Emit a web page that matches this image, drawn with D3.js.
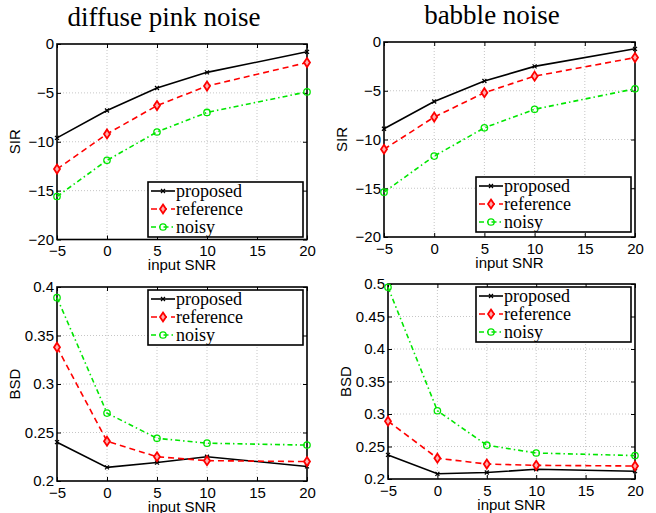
<!DOCTYPE html>
<html>
<head>
<meta charset="utf-8">
<script src="https://cdn.jsdelivr.net/npm/d3@7"></script>
<style>
  body { margin: 0; background: #fff; }
  svg text { font-family: "Liberation Sans", Arial, sans-serif; }
</style>
</head>
<body>
<svg id="drawing_region"></svg>
<script>
// input SNR values (x axis)
const snr = [-5, 0, 5, 10, 20];
const xTicks = [-5, 0, 5, 10, 15, 20];
const seriesNames = ["proposed", "reference", "noisy"];

// SIR, diffuse pink noise
const sirPinkProposed  = [-9.6, -6.8, -4.5, -2.9, -0.8];
const sirPinkReference = [-12.8, -9.2, -6.3, -4.3, -1.9];
const sirPinkNoisy     = [-15.6, -11.9, -9.0, -7.0, -4.9];

// SIR, babble noise
const sirBabbleProposed  = [-8.9, -6.1, -4.0, -2.5, -0.7];
const sirBabbleReference = [-11.0, -7.7, -5.2, -3.5, -1.6];
const sirBabbleNoisy     = [-15.4, -11.7, -8.8, -6.9, -4.8];

// BSD, diffuse pink noise
const bsdPinkProposed  = [0.240, 0.214, 0.219, 0.225, 0.215];
const bsdPinkReference = [0.338, 0.241, 0.225, 0.221, 0.220];
const bsdPinkNoisy     = [0.389, 0.270, 0.244, 0.239, 0.237];

// BSD, babble noise
const bsdBabbleProposed  = [0.237, 0.208, 0.210, 0.215, 0.212];
const bsdBabbleReference = [0.289, 0.232, 0.223, 0.221, 0.220];
const bsdBabbleNoisy     = [0.495, 0.305, 0.252, 0.240, 0.236];

const sirTicks = [-20, -15, -10, -5, 0];
const bsdPinkTicks = [0.2, 0.25, 0.3, 0.35, 0.4];
const bsdBabbleTicks = [0.2, 0.25, 0.3, 0.35, 0.4, 0.45, 0.5];

const svg = d3.select("#drawing_region")
    .attr("width", 656)
    .attr("height", 513);

const styles = {
    proposed:  { color: "#000000", dash: null },
    reference: { color: "#ff0000", dash: "6,4" },
    noisy:     { color: "#00e600", dash: "5,3,1.5,3" }
};

function fmtTick(v) {
    return String(v).replace("-", "\u2212");
}

function drawMarker(g, name, x, y) {
    const c = styles[name].color;
    if (name === "proposed") {
        g.append("path")
            .attr("d", `M${x-2},${y-2}L${x+2},${y+2}M${x-2},${y+2}L${x+2},${y-2}`)
            .attr("stroke", c).attr("stroke-width", 1.2);
    } else if (name === "reference") {
        g.append("path")
            .attr("d", `M${x},${y-4.5}L${x+3},${y}L${x},${y+4.5}L${x-3},${y}Z`)
            .attr("fill", "#ffb0b0").attr("stroke", c).attr("stroke-width", 1.8);
    } else {
        g.append("circle")
            .attr("cx", x).attr("cy", y).attr("r", 3.2)
            .attr("fill", "none").attr("stroke", c).attr("stroke-width", 1.3);
    }
}

function drawPanel(cfg) {
    const g = svg.append("g");
    const x = d3.scaleLinear().domain([-5, 20]).range([cfg.left, cfg.right]);
    const y = d3.scaleLinear().domain(cfg.yDomain).range([cfg.bottom, cfg.top]);

    // grid
    g.selectAll(".gx").data(xTicks.slice(1, -1)).enter().append("line")
        .attr("x1", d => x(d)).attr("x2", d => x(d))
        .attr("y1", cfg.top).attr("y2", cfg.bottom)
        .attr("stroke", "#b8b8b8").attr("stroke-width", 0.8)
        .attr("stroke-dasharray", "1,2");
    g.selectAll(".gy").data(cfg.yTicks.slice(1, -1)).enter().append("line")
        .attr("x1", cfg.left).attr("x2", cfg.right)
        .attr("y1", d => y(d)).attr("y2", d => y(d))
        .attr("stroke", "#b8b8b8").attr("stroke-width", 0.8)
        .attr("stroke-dasharray", "1,2");

    // axes (ticks inward)
    const xAxis = d3.axisBottom(x).tickValues(xTicks).tickSize(-4).tickPadding(6)
        .tickFormat(fmtTick);
    const xAxisTop = d3.axisTop(x).tickValues(xTicks).tickSize(-4).tickFormat("");
    const yAxis = d3.axisLeft(y).tickValues(cfg.yTicks).tickSize(-4).tickPadding(3)
        .tickFormat(fmtTick);
    const yAxisRight = d3.axisRight(y).tickValues(cfg.yTicks).tickSize(-4).tickFormat("");

    [
        [xAxis, `translate(0,${cfg.bottom})`],
        [xAxisTop, `translate(0,${cfg.top})`],
        [yAxis, `translate(${cfg.left},0)`],
        [yAxisRight, `translate(${cfg.right},0)`]
    ].forEach(([ax, tr]) => {
        const a = g.append("g").attr("transform", tr).call(ax);
        a.select(".domain").remove();
        a.selectAll("line").attr("stroke", "#000").attr("stroke-width", 1);
        a.selectAll("text").attr("font-size", 15).attr("fill", "#000")
            .style("font-family", "'Liberation Sans', Arial, sans-serif");
    });

    // frame
    g.append("rect")
        .attr("x", cfg.left).attr("y", cfg.top)
        .attr("width", cfg.right - cfg.left).attr("height", cfg.bottom - cfg.top)
        .attr("fill", "none").attr("stroke", "#000").attr("stroke-width", 1.6);

    // series
    const line = d3.line().x((d, i) => x(snr[i])).y(d => y(d));
    seriesNames.forEach((name, k) => {
        const vals = cfg.series[k];
        g.append("path")
            .attr("d", line(vals))
            .attr("fill", "none")
            .attr("stroke", styles[name].color)
            .attr("stroke-width", 1.6)
            .attr("stroke-dasharray", styles[name].dash);
        vals.forEach((v, i) => drawMarker(g, name, x(snr[i]), y(v)));
    });

    // axis labels
    g.append("text")
        .attr("x", (cfg.left + cfg.right) / 2).attr("y", cfg.bottom + 30.5)
        .attr("text-anchor", "middle").attr("font-size", 15)
        .text("input SNR");
    g.append("text")
        .attr("transform", `translate(${cfg.left - 37},${(cfg.top + cfg.bottom) / 2}) rotate(-90)`)
        .attr("text-anchor", "middle").attr("font-size", 15)
        .text(cfg.yLabel);

    // title
    if (cfg.title) {
        g.append("text")
            .attr("x", cfg.titleX).attr("y", cfg.top - 18)
            .attr("text-anchor", "middle").attr("font-size", 27)
            .style("font-family", "'Liberation Serif', 'Times New Roman', serif")
            .text(cfg.title);
    }

    // legend
    const L = cfg.legend;
    const lg = g.append("g");
    lg.append("rect")
        .attr("x", L.x).attr("y", L.y).attr("width", 155).attr("height", 55)
        .attr("fill", "#fff").attr("stroke", "#000").attr("stroke-width", 1.6);
    seriesNames.forEach((name, k) => {
        const ly = L.y + 9 + k * 18;
        lg.append("line")
            .attr("x1", L.x + 3).attr("x2", L.x + 27)
            .attr("y1", ly).attr("y2", ly)
            .attr("stroke", styles[name].color).attr("stroke-width", 1.6)
            .attr("stroke-dasharray", styles[name].dash);
        drawMarker(lg, name, L.x + 15, ly);
        lg.append("text")
            .attr("x", L.x + 28).attr("y", ly + 5.5)
            .attr("font-size", 18)
            .style("font-family", "'Liberation Serif', 'Times New Roman', serif")
            .text(name);
    });
}

drawPanel({
    left: 57, right: 307, top: 44, bottom: 239.5,
    yDomain: [-20, 0], yTicks: sirTicks, yLabel: "SIR",
    title: "diffuse pink noise", titleX: 164,
    series: [sirPinkProposed, sirPinkReference, sirPinkNoisy],
    legend: { x: 148, y: 182 }
});
drawPanel({
    left: 384, right: 635, top: 42, bottom: 237,
    yDomain: [-20, 0], yTicks: sirTicks, yLabel: "SIR",
    title: "babble noise", titleX: 492,
    series: [sirBabbleProposed, sirBabbleReference, sirBabbleNoisy],
    legend: { x: 476, y: 177 }
});
drawPanel({
    left: 57, right: 307, top: 287, bottom: 481,
    yDomain: [0.2, 0.4], yTicks: bsdPinkTicks, yLabel: "BSD",
    series: [bsdPinkProposed, bsdPinkReference, bsdPinkNoisy],
    legend: { x: 148, y: 290 }
});
drawPanel({
    left: 388, right: 635, top: 284, bottom: 479,
    yDomain: [0.2, 0.5], yTicks: bsdBabbleTicks, yLabel: "BSD",
    series: [bsdBabbleProposed, bsdBabbleReference, bsdBabbleNoisy],
    legend: { x: 476, y: 287 }
});
</script>
</body>
</html>
